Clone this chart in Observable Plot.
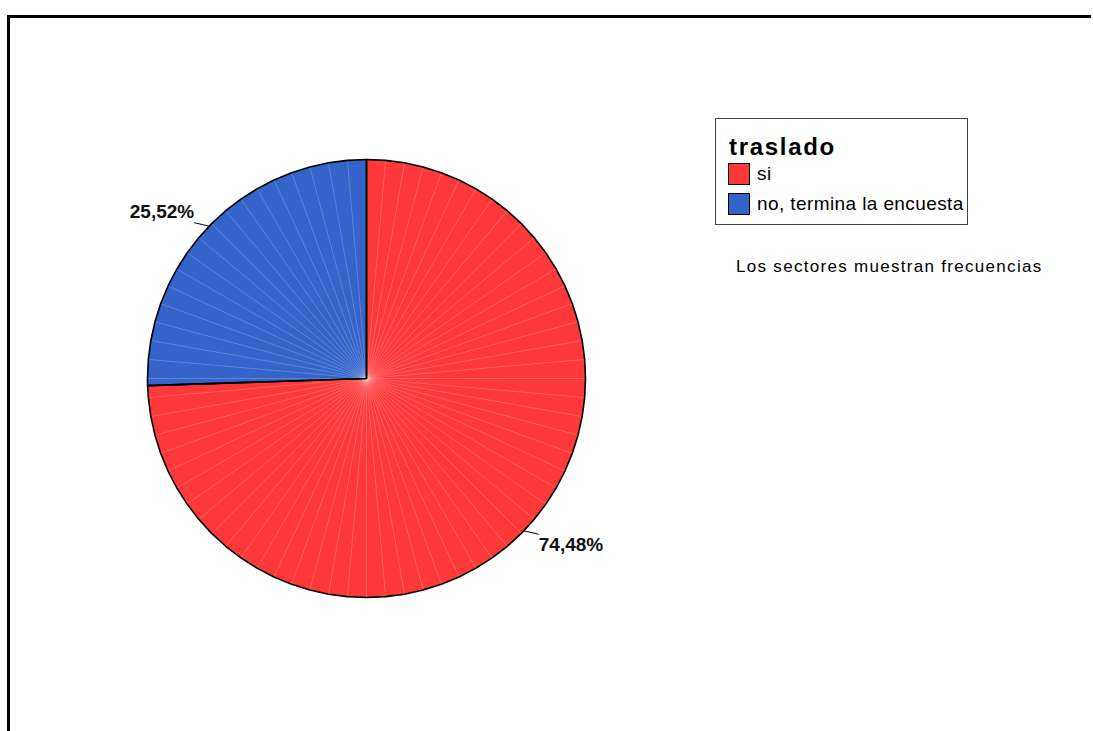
<!DOCTYPE html>
<html>
<head>
<meta charset="utf-8">
<script src="https://cdn.jsdelivr.net/npm/d3@7"></script>
<script src="https://cdn.jsdelivr.net/npm/@observablehq/plot@0.6"></script>
<style>
  html, body { margin: 0; padding: 0; background: #fff; overflow: hidden; }
  #wrap { position: relative; width: 1093px; height: 731px; overflow: hidden; font-family: "Liberation Sans", Arial, sans-serif; }
  #ftop { position: absolute; left: 7px; top: 15px; width: 1084px; height: 3px; background: #000; }
  #fleft { position: absolute; left: 7px; top: 15px; width: 3px; height: 716px; background: #000; }
  #chart { position: absolute; left: 0; top: 0; }
  #legend { position: absolute; left: 715px; top: 118px; width: 253px; height: 107px; border: 1.5px solid #444; box-sizing: border-box; background: #fff; }
  #legend .title { position: absolute; left: 13px; top: 16px; font-weight: bold; font-size: 24px; letter-spacing: 1.7px; line-height: 1; }
  #legend .item { position: absolute; left: 12px; height: 22px; display: flex; align-items: center; font-size: 19px; letter-spacing: 0.4px; white-space: nowrap; }
  #legend .sw { width: 22px; height: 22px; border: 1.5px solid #000; box-sizing: border-box; margin-right: 7px; }
  #caption { position: absolute; left: 736px; top: 257px; font-size: 17px; letter-spacing: 1.3px; white-space: nowrap; }
</style>
</head>
<body>
<div id="wrap">
  <div id="ftop"></div>
  <div id="fleft"></div>
  <div id="chart"></div>
  <div id="legend"></div>
  <div id="caption"></div>
</div>
<script>
// ---- data ----
const legendTitle = "traslado";
const categories = ["si", "no, termina la encuesta"];
const percents = [74.48, 25.52];
const percentLabels = ["74,48%", "25,52%"];
const colors = ["#ff383a", "#3464c9"];
const captionText = "Los sectores muestran frecuencias";

const arcs = d3.pie().sort(null).value(d => d)(percents);
const step = Math.PI / 36;
const pt = a => ({x: Math.sin(a), y: Math.cos(a)});

const polyRows = [];
const spokeAngles = [];
arcs.forEach((arc, i) => {
  const pts = [{x: 0, y: 0}];
  pts.push(pt(arc.startAngle));
  let k = Math.floor(arc.startAngle / step) + 1;
  while (k * step < arc.endAngle - 1e-6) {
    pts.push(pt(k * step));
    spokeAngles.push(k * step);
    k++;
  }
  pts.push(pt(arc.endAngle));
  pts.push({x: 0, y: 0});
  pts.forEach(p => polyRows.push({...p, slice: categories[i], color: colors[i]}));
});
const spokes = spokeAngles.map(a => ({x1: 0, y1: 0, x2: Math.sin(a), y2: Math.cos(a)}));

const labelRows = arcs.map((arc, i) => {
  const m = (arc.startAngle + arc.endAngle) / 2;
  const e = pt(m);
  const sx = Math.sign(e.x), sy = Math.sign(e.y);
  const lx = e.x + sx * 0.068, ly = e.y + sy * 0.016;
  return {
    ex: e.x, ey: e.y, lx, ly,
    tx: lx, ty: ly + sy * 0.05,
    label: percentLabels[i],
    anchor: sx > 0 ? "start" : "end"
  };
});

const chart = Plot.plot({
  width: 1000,
  height: 731,
  margin: 0,
  x: {domain: [-1, 1], range: [147, 585], axis: null},
  y: {domain: [-1, 1], range: [597, 159], axis: null},
  color: {type: "identity"},
  style: {background: "transparent", fontFamily: "'Liberation Sans', Arial, sans-serif"},
  marks: [
    Plot.line(polyRows, {x: "x", y: "y", z: "slice", fill: "color", stroke: "none"}),
    Plot.link(spokes, {x1: "x1", y1: "y1", x2: "x2", y2: "y2", stroke: "#ffffff", strokeOpacity: 0.3, strokeWidth: 0.7}),
    Plot.line(polyRows, {x: "x", y: "y", z: "slice", stroke: "#000", strokeWidth: 1.6, strokeLinejoin: "round"}),
    Plot.link(labelRows, {x1: "ex", y1: "ey", x2: "lx", y2: "ly", stroke: "#000", strokeWidth: 1}),
    Plot.text(labelRows.filter(d => d.anchor === "start"), {x: "tx", y: "ty", text: "label", textAnchor: "start", fontSize: 19, fontWeight: "bold", fill: "#111"}),
    Plot.text(labelRows.filter(d => d.anchor === "end"), {x: "tx", y: "ty", text: "label", textAnchor: "end", fontSize: 19, fontWeight: "bold", fill: "#111"})
  ]
});
document.getElementById("chart").appendChild(chart);

const legend = document.getElementById("legend");
const t = document.createElement("div");
t.className = "title";
t.textContent = legendTitle;
legend.appendChild(t);
categories.forEach((c, i) => {
  const item = document.createElement("div");
  item.className = "item";
  item.style.top = (44 + i * 30) + "px";
  const sw = document.createElement("div");
  sw.className = "sw";
  sw.style.background = colors[i];
  item.appendChild(sw);
  const s = document.createElement("span");
  s.textContent = c;
  item.appendChild(s);
  legend.appendChild(item);
});
document.getElementById("caption").textContent = captionText;
</script>
</body>
</html>
